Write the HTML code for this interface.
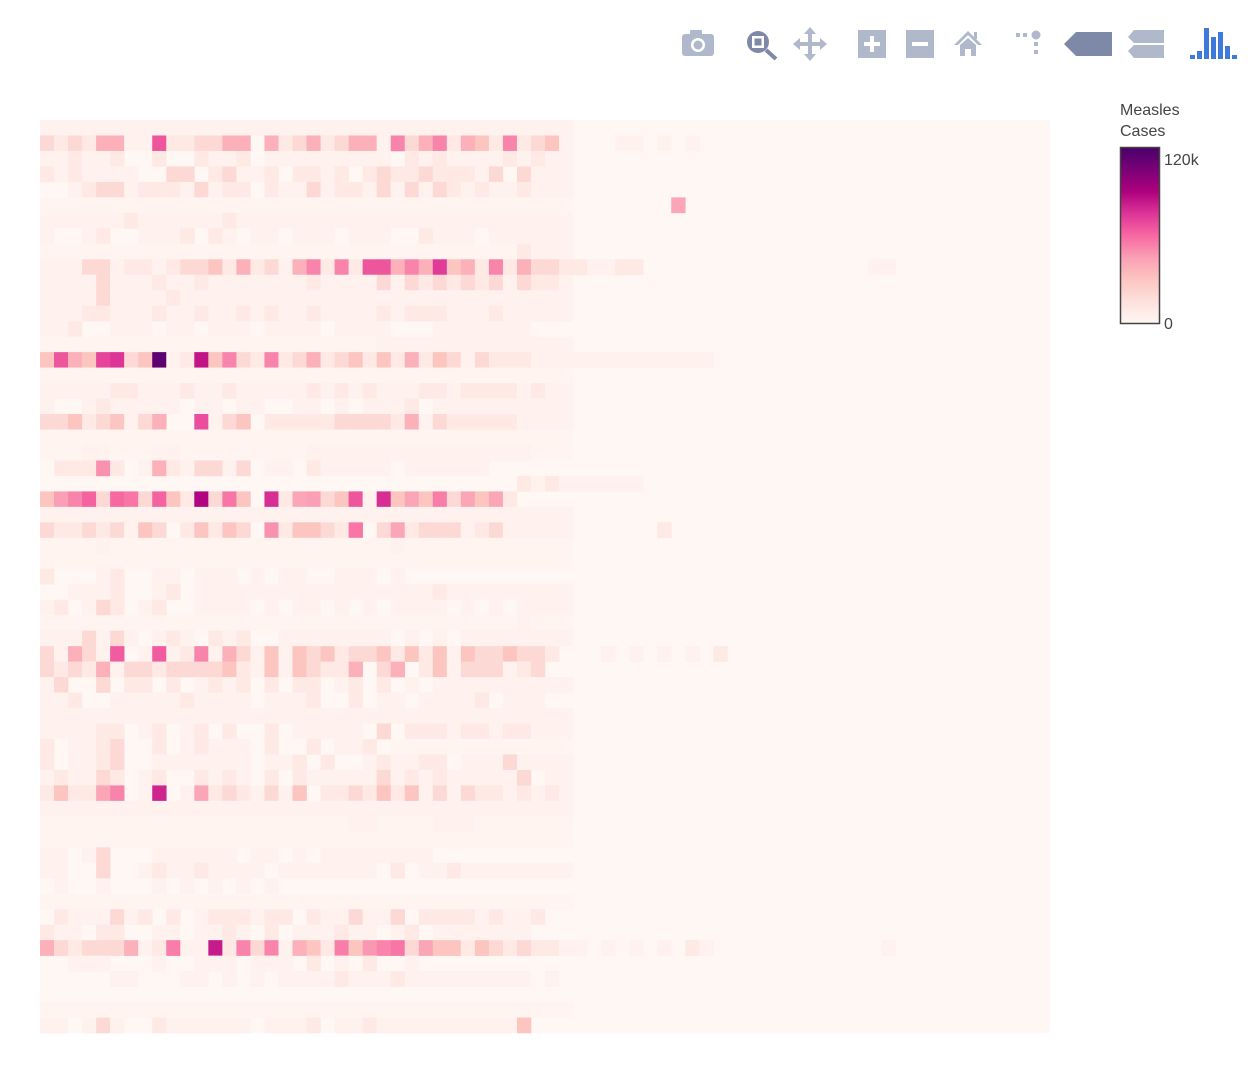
<!DOCTYPE html>
<html><head><meta charset="utf-8">
<style>
html,body{margin:0;padding:0;background:#fff;}
body{width:1252px;height:1086px;position:relative;overflow:hidden;font-family:"Liberation Sans",sans-serif;}
#chart{position:absolute;left:0;top:0;}
</style></head>
<body>
<svg id="chart" width="1252" height="1086" xmlns="http://www.w3.org/2000/svg">
  <g id="modebar">
    <g fill="#b0b8cc">
      <rect x="682" y="34" width="32" height="22" rx="3"/>
      <rect x="690" y="30" width="12" height="6" rx="1"/>
      <circle cx="698" cy="45" r="7" fill="#fff"/>
      <circle cx="698" cy="45" r="4.5" fill="#b0b8cc"/>
    </g>
    <g>
      <circle cx="758" cy="42" r="11" fill="#7d89a6"/>
      <rect x="752" y="36" width="12" height="12" fill="#fff"/>
      <rect x="754.5" y="38.5" width="7" height="7" fill="#7d89a6"/>
      <line x1="766" y1="50" x2="776" y2="59" stroke="#7d89a6" stroke-width="4"/>
    </g>
    <g fill="#b0b8cc">
      <rect x="808" y="32" width="4" height="24"/><rect x="798" y="42" width="24" height="4"/>
      <polygon points="810,27 804,34 816,34"/><polygon points="810,61 804,54 816,54"/>
      <polygon points="793,44 800,38 800,50"/><polygon points="827,44 820,38 820,50"/>
    </g>
    <g>
      <rect x="858" y="30" width="28" height="28" fill="#b0b8cc"/>
      <rect x="870" y="36" width="4" height="16" fill="#fff"/><rect x="864" y="42" width="16" height="4" fill="#fff"/>
    </g>
    <g>
      <rect x="906" y="30" width="28" height="28" fill="#b0b8cc"/>
      <rect x="912" y="42" width="16" height="4" fill="#fff"/>
    </g>
    <g fill="#b0b8cc">
      <polygon points="968,31 954,45 958,45 968,35 978,45 982,45"/>
      <polygon points="960,45 968,38 976,45 976,56 971,56 971,49 965,49 965,56 960,56"/>
      <rect x="974" y="32" width="3" height="7"/>
    </g>
    <g fill="#b0b8cc">
      <rect x="1016" y="33" width="4" height="4"/><rect x="1023" y="33" width="4" height="4"/>
      <circle cx="1036" cy="35" r="4.5"/>
      <rect x="1034" y="42" width="4" height="4"/><rect x="1034" y="50" width="4" height="4"/>
    </g>
    <g>
      <polygon points="1064,44 1076,32 1112,32 1112,56 1076,56" fill="#7d89a6"/>
    </g>
    <g fill="#b0b8cc">
      <polygon points="1128,37 1134,30 1164,30 1164,43 1134,43"/>
      <polygon points="1128,51 1134,45 1164,45 1164,58 1134,58"/>
    </g>
    <g fill="#3d7adb">
      <rect x="1190" y="55" width="5" height="4"/><rect x="1197" y="51" width="5" height="8"/>
      <rect x="1204" y="28" width="5" height="31"/><rect x="1211" y="37" width="5" height="22"/>
      <rect x="1218" y="32" width="5" height="27"/><rect x="1225" y="46" width="5" height="13"/>
      <rect x="1232" y="55" width="5" height="4"/>
    </g>
  </g>
  <rect x="40" y="120" width="1010" height="913" fill="#fff7f3"/>
  <g id="cells"></g>
  <defs>
    <linearGradient id="rdpu" x1="0" y1="1" x2="0" y2="0">
      <stop offset="0" stop-color="#fff7f3"/><stop offset="0.125" stop-color="#fde0dd"/>
      <stop offset="0.25" stop-color="#fcc5c0"/><stop offset="0.375" stop-color="#fa9fb5"/>
      <stop offset="0.5" stop-color="#f768a1"/><stop offset="0.625" stop-color="#dd3497"/>
      <stop offset="0.75" stop-color="#ae017e"/><stop offset="0.875" stop-color="#7a0177"/>
      <stop offset="1" stop-color="#49006a"/>
    </linearGradient>
  </defs>
  <g>
    <text x="1120" y="115" font-size="16" fill="#444">Measles</text>
    <text x="1120" y="136" font-size="16" fill="#444">Cases</text>
    <rect x="1120.5" y="147.5" width="39" height="176" fill="url(#rdpu)" stroke="#444" stroke-width="1.5"/>
    <g id="cbticks"></g>
  </g>
</svg>
<script>
// values in thousands of cases; rows = years, columns = states
const zMax = 128;
const cbTickValues = [0, 120];
const cbTickLabels = ["0", "120k"];
const z = [
[4,4,4,4,4,4,4,4,4,4,4,4,4,4,4,4,4,4,4,4,4,4,4,4,4,4,4,4,4,4,4,4,4,4,4,4,4,4],
[20,10,20,10,41,41,4,4,70,10,10,20,20,41,41,0,41,10,20,41,10,20,41,41,4,56,20,41,56,10,41,32,10,56,10,20,32,4],
[4,4,10,4,4,10,0,0,10,0,0,10,4,4,10,0,4,4,4,4,4,4,4,4,4,0,10,4,10,4,4,4,4,10,4,10,4,4],
[10,4,10,4,4,4,4,0,0,20,20,0,10,20,4,4,10,0,10,10,4,10,0,10,20,10,10,20,10,10,10,4,20,0,20,4,4,4],
[0,0,4,10,20,20,4,10,10,10,4,20,4,10,10,0,10,4,4,20,4,10,10,4,20,4,20,4,20,10,4,10,4,4,10,4,4,4],
[2,2,2,2,2,2,2,2,2,2,2,2,2,2,2,2,2,2,2,2,2,2,2,2,2,2,2,2,2,2,2,2,2,2,2,2,2,2],
[4,4,4,4,4,4,10,4,4,4,4,4,4,10,4,4,4,4,4,4,4,4,4,4,4,4,4,4,4,4,4,4,4,4,4,4,4,4],
[4,0,0,4,10,0,0,4,4,4,10,0,10,4,0,4,4,0,4,4,4,0,4,4,4,0,0,10,4,4,4,0,4,4,4,4,4,4],
[2,2,2,2,2,2,2,2,2,2,2,2,2,2,2,2,2,2,2,2,2,2,2,2,2,2,2,2,2,2,2,2,2,2,10,4,4,4],
[4,4,4,20,20,4,10,10,4,10,20,20,32,10,41,10,20,4,41,56,10,56,10,70,70,41,56,41,78,32,41,10,56,10,41,20,20,10],
[4,4,4,4,20,4,4,4,10,4,4,10,4,4,4,4,4,4,4,10,4,4,4,4,20,4,20,10,20,10,20,10,20,4,20,10,10,4],
[4,4,4,4,20,4,4,4,4,10,4,4,4,4,4,4,4,4,4,4,4,4,4,4,4,4,4,4,4,4,4,4,4,4,4,4,4,4],
[4,4,4,10,10,4,4,4,10,4,4,10,4,4,10,4,10,4,4,10,4,4,4,4,10,4,10,10,10,4,4,4,10,4,4,4,4,4],
[4,4,10,0,0,4,4,4,0,4,4,0,4,4,4,0,4,4,4,4,0,4,4,4,4,0,0,0,4,4,4,4,4,4,4,0,0,0],
[2,2,2,2,2,2,2,2,2,2,2,2,2,2,2,2,2,2,2,2,2,2,2,2,4,4,4,4,4,4,4,4,4,4,4,4,4,4],
[32,70,41,32,75,80,20,32,121,4,10,90,32,56,20,10,56,10,20,41,10,20,32,10,32,10,41,10,32,20,4,20,10,10,10,4,4,4],
[2,2,2,2,2,2,2,2,2,2,2,2,2,2,2,2,2,2,2,2,2,2,2,2,2,2,2,2,2,2,2,2,2,2,2,2,2,2],
[4,4,4,4,4,10,10,4,4,4,10,4,4,10,4,4,4,4,4,10,4,10,4,10,4,4,4,10,10,4,10,10,10,10,4,10,4,4],
[4,0,0,4,10,4,4,4,4,4,0,4,4,0,4,4,0,0,4,4,0,4,0,4,4,4,10,0,4,4,4,4,4,4,4,4,4,4],
[20,20,32,10,20,32,4,20,41,0,0,72,4,20,32,0,10,10,10,10,10,20,20,20,20,10,41,4,20,10,10,10,10,10,4,4,4,4],
[2,2,2,2,2,2,2,2,2,2,2,2,2,2,2,2,2,2,2,2,2,2,2,2,2,2,2,2,2,2,2,2,2,2,2,2,2,2],
[2,2,2,4,4,2,2,2,4,4,2,2,2,2,2,2,2,2,2,4,4,4,4,4,4,4,4,4,4,4,4,4,4,4,4,2,2,2],
[0,10,10,10,52,10,0,4,41,10,4,20,20,4,20,0,4,4,0,10,4,4,4,4,4,0,4,4,4,4,4,4,0,0,0,0,0,0],
[0,0,0,0,0,0,0,0,0,0,0,0,0,0,0,0,0,0,0,0,0,0,0,0,0,0,0,0,0,0,0,0,0,0,10,4,10,4],
[32,48,56,66,20,64,60,20,66,32,10,95,20,60,32,0,82,10,45,48,20,32,70,4,82,32,45,32,58,20,45,32,45,10,0,0,0,0],
[4,4,4,4,4,4,4,4,4,4,4,4,4,4,4,4,4,4,4,4,4,4,4,4,4,4,4,4,4,4,4,4,4,4,4,4,4,4],
[20,10,10,20,10,20,4,32,20,0,10,32,10,32,20,0,52,10,32,32,20,10,60,0,20,45,10,20,20,20,4,10,20,4,4,4,4,4],
[2,2,2,2,4,2,2,2,2,2,2,2,2,2,2,2,2,2,2,2,2,2,2,2,2,4,2,2,2,2,2,2,2,2,2,2,2,2],
[2,2,2,2,2,2,2,2,2,2,2,2,2,2,2,2,2,2,2,2,2,2,2,2,2,2,2,2,2,2,2,2,2,2,2,2,2,2],
[10,0,0,0,4,10,0,0,4,4,0,4,4,4,0,4,0,4,4,0,0,4,4,4,0,4,0,0,0,0,0,0,0,0,0,0,0,0],
[0,0,4,4,4,10,0,0,4,10,0,4,4,4,4,4,4,4,4,4,4,4,4,4,4,4,4,4,10,4,4,4,4,4,4,4,4,4],
[4,10,0,4,20,10,0,4,10,0,0,4,4,4,4,0,4,0,4,4,0,4,0,4,0,4,4,4,4,0,4,0,4,0,4,4,4,4],
[2,2,2,2,2,2,2,2,2,2,2,2,2,2,2,2,2,2,2,2,2,2,2,2,2,2,2,2,2,2,2,2,2,2,4,2,2,2],
[4,4,4,20,4,20,4,0,4,10,4,0,10,4,10,0,0,4,4,4,4,4,4,4,4,0,4,0,4,0,4,4,4,4,4,4,4,4],
[20,4,41,20,4,68,0,4,68,4,10,56,4,41,20,4,32,4,32,20,32,10,20,20,32,10,32,10,32,4,32,20,20,32,20,20,10,0],
[20,10,20,10,41,4,20,20,10,20,20,20,20,32,10,4,32,4,32,20,10,10,41,0,20,41,0,10,32,4,20,20,20,4,10,20,0,0],
[4,20,0,0,20,0,10,10,0,10,0,4,10,4,10,0,10,0,10,10,0,4,10,0,10,0,4,0,4,4,4,4,4,4,4,4,4,4],
[4,4,10,0,0,4,4,4,4,4,10,4,4,4,4,0,4,4,4,10,0,0,10,0,4,4,0,4,4,4,4,10,0,4,4,4,0,0],
[4,4,4,4,4,4,4,4,4,4,4,4,4,4,4,4,4,4,4,4,4,4,4,4,4,4,4,4,4,4,4,4,4,4,4,4,4,4],
[4,4,4,4,10,10,0,4,10,0,4,10,0,10,0,0,10,0,4,4,4,4,4,0,20,0,10,10,10,4,10,10,4,10,10,4,4,4],
[10,0,4,4,10,20,0,0,10,0,4,10,4,4,4,0,10,0,0,10,0,4,4,10,0,2,2,2,2,2,2,2,2,2,2,2,2,2],
[10,0,4,4,10,20,0,0,4,4,4,4,4,4,4,0,4,4,10,0,10,0,0,4,10,4,4,10,10,0,4,4,4,20,4,4,4,4],
[4,10,4,4,20,10,0,4,10,0,0,10,4,10,4,0,10,0,10,4,4,4,4,4,20,4,10,4,10,4,4,4,4,4,20,0,4,4],
[10,32,10,10,45,56,0,4,85,0,4,45,10,20,10,4,20,4,32,0,10,10,20,10,32,10,32,4,20,4,20,10,10,4,10,4,10,4],
[4,4,4,4,4,4,4,4,4,4,4,4,4,4,4,4,4,4,4,4,4,4,4,4,4,4,4,4,4,4,4,4,4,4,4,4,4,4],
[2,2,2,2,2,2,2,2,2,2,2,2,2,2,2,2,2,2,2,2,2,2,4,4,2,2,2,2,4,4,4,2,2,2,2,2,2,2],
[2,2,2,2,2,2,2,2,2,2,2,2,2,2,2,2,2,2,2,2,2,2,2,2,2,2,2,2,2,2,2,2,2,2,2,2,2,2],
[4,4,0,4,20,0,0,0,4,4,4,4,4,4,0,4,4,0,4,0,4,4,4,4,4,4,4,4,0,0,0,0,0,0,0,0,0,0],
[4,4,0,0,20,0,0,4,10,4,4,10,4,4,4,4,0,4,4,4,4,4,4,4,0,10,0,4,4,10,4,4,4,4,4,4,4,4],
[0,4,0,0,4,0,0,0,4,0,4,0,4,0,4,0,4,0,0,0,0,0,0,0,0,0,0,0,0,0,0,0,0,0,0,0,0,0],
[2,2,2,2,2,2,2,2,2,2,2,2,2,2,2,2,2,2,2,2,2,2,2,2,2,2,2,2,2,2,2,2,2,2,2,2,2,2],
[0,10,4,4,4,20,4,10,0,10,0,4,10,10,10,4,10,10,0,10,4,4,20,4,4,20,0,10,10,10,10,4,10,4,4,10,0,0],
[10,4,4,0,10,10,0,0,4,4,0,4,4,10,4,0,10,0,4,4,4,10,4,4,0,4,10,0,4,4,4,4,4,4,4,0,0,0],
[41,20,10,20,20,20,41,4,10,58,4,4,88,10,56,20,56,4,41,32,10,58,32,50,56,60,20,45,32,32,10,32,20,10,20,10,10,4],
[0,0,4,4,4,0,0,0,4,0,0,4,4,4,0,4,4,4,0,10,0,4,0,10,0,0,4,0,0,0,0,0,0,0,0,0,0,0],
[0,0,0,0,0,4,4,0,0,0,4,4,0,4,0,4,0,4,4,4,4,10,4,4,4,10,4,4,4,4,4,4,4,4,4,0,4,0],
[0,0,0,0,0,0,0,0,0,0,0,0,0,0,0,0,0,0,0,0,0,0,0,0,0,0,0,0,0,0,0,0,0,0,0,0,0,0],
[2,2,2,2,2,2,2,2,2,2,2,2,2,2,2,2,2,2,2,2,2,2,2,2,2,2,2,2,2,2,2,2,2,2,2,2,2,2],
[4,4,0,4,20,4,0,0,10,4,4,4,4,4,4,0,4,4,4,10,0,4,4,10,4,4,4,4,4,4,4,4,4,4,32,0,0,0]
];
// sparse cells beyond column 37: [row, column, value]
const tailCells = [
[1,41,4],[1,42,4],[1,44,4],[1,46,4],
[5,45,45],
[9,38,10],[9,39,4],[9,40,4],[9,41,10],[9,42,10],[9,59,4],[9,60,4],
[15,38,4],[15,39,4],[15,40,4],[15,41,4],[15,42,4],[15,43,4],[15,44,4],[15,45,4],[15,46,4],[15,47,4],
[23,38,4],[23,39,4],[23,40,4],[23,41,4],[23,42,4],
[26,44,10],
[34,40,4],[34,42,4],[34,44,4],[34,46,4],[34,48,10],
[53,38,4],[53,40,4],[53,42,4],[53,44,4],[53,46,10],[53,47,4],[53,60,4]
];
const nRows = 59, nCols = 72;
const X0 = 40, X1 = 1050, Y0 = 120, Y1 = 1033;
const cw = (X1 - X0) / nCols, rh = (Y1 - Y0) / nRows;
function xScale(j){ return X0 + j * cw; }
function yScale(i){ return Y0 + i * rh; }
const stops = [[255,247,243],[253,224,221],[252,197,192],[250,159,181],[247,104,161],[221,52,151],[174,1,126],[122,1,119],[73,0,106]];
function colorFor(v){
  const t = Math.max(0, Math.min(1, v / zMax)) * (stops.length - 1);
  const k = Math.min(stops.length - 2, Math.floor(t));
  const f = t - k;
  const a = stops[k], b = stops[k + 1];
  return 'rgb(' + [0, 1, 2].map(c => Math.round(a[c] + (b[c] - a[c]) * f)).join(',') + ')';
}
const NS = 'http://www.w3.org/2000/svg';
const cellGroup = document.getElementById('cells');
function addCell(i, j, v){
  if (v <= 0) return;
  const r = document.createElementNS(NS, 'rect');
  r.setAttribute('x', xScale(j).toFixed(2));
  r.setAttribute('y', yScale(i).toFixed(2));
  r.setAttribute('width', (cw + 0.3).toFixed(2));
  r.setAttribute('height', (rh + 0.3).toFixed(2));
  r.setAttribute('fill', colorFor(v));
  
  
  cellGroup.appendChild(r);
}
for (let i = 0; i < z.length; i++) {
  for (let j = 0; j < z[i].length; j++) {
    addCell(i, j, z[i][j]);
  }
}
for (let k = 0; k < tailCells.length; k++) {
  addCell(tailCells[k][0], tailCells[k][1], tailCells[k][2]);
}
const cbTop = 148, cbBot = 323;
const cbt = document.getElementById('cbticks');
for (let k = 0; k < cbTickValues.length; k++) {
  const y = cbBot - (cbTickValues[k] / zMax) * (cbBot - cbTop);
  const t = document.createElementNS(NS, 'text');
  t.setAttribute('x', 1164);
  t.setAttribute('y', (y + 6).toFixed(1));
  t.setAttribute('font-size', '16');
  t.setAttribute('fill', '#444');
  
  
  t.textContent = cbTickLabels[k];
  cbt.appendChild(t);
}
</script>
</body></html>
